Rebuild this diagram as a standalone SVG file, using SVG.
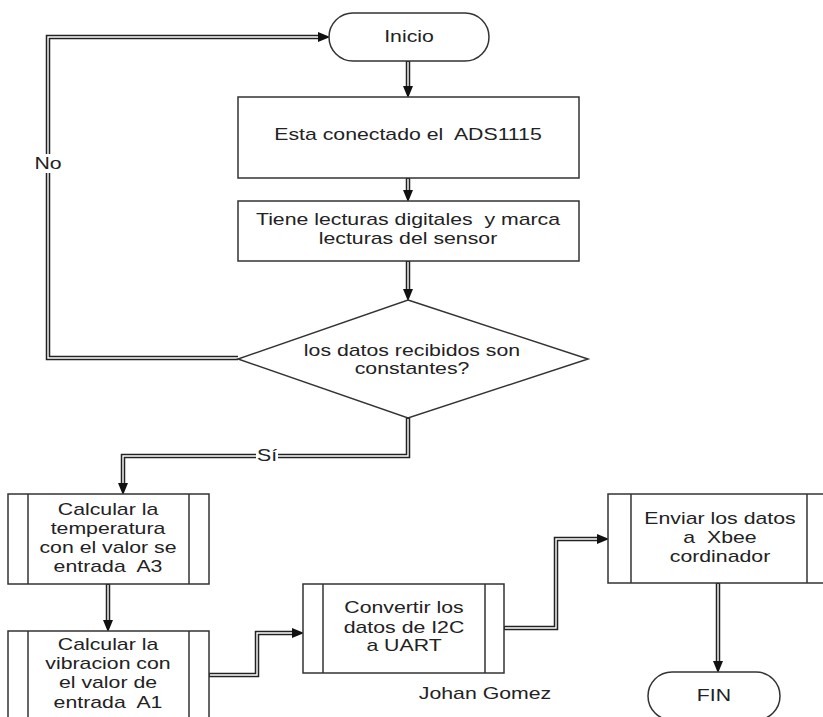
<svg xmlns="http://www.w3.org/2000/svg" width="823" height="717" viewBox="0 0 823 717">
<style>
.shape{fill:#fff;stroke:#333;stroke-width:1.5}
.line{fill:none;stroke:#333;stroke-width:1.5}
.cb{fill:none;stroke:#222;stroke-width:4.5;stroke-linejoin:miter}
.cw{fill:none;stroke:#fff;stroke-width:1.4;stroke-linejoin:miter}
.t{font-family:"Liberation Sans",Arial,sans-serif;font-size:16px;fill:#222;text-anchor:middle;white-space:pre}
</style>
<defs>
<marker id="ah" markerUnits="userSpaceOnUse" markerWidth="14" markerHeight="10" refX="0" refY="4.5" orient="auto" viewBox="0 0 12 9">
<path d="M0,0 L11,4.5 L0,9 Z" fill="#111"/>
</marker>
</defs>
<rect width="823" height="717" fill="#fff"/>

<g id="connectors">
<path class="cb" d="M408,61 V86" marker-end="url(#ah)"/>
<path class="cb" d="M408,178 V190" marker-end="url(#ah)"/>
<path class="cb" d="M408,261 V289" marker-end="url(#ah)"/>
<path class="cb" d="M238,358 H48 V37 H318" marker-end="url(#ah)"/>
<path class="cb" d="M408,418 V456 H123 V483" marker-end="url(#ah)"/>
<path class="cb" d="M108,584 V620" marker-end="url(#ah)"/>
<path class="cb" d="M209,675 H257 V633 H292" marker-end="url(#ah)"/>
<path class="cb" d="M504,628 H556 V539 H597" marker-end="url(#ah)"/>
<path class="cb" d="M718,583 V661" marker-end="url(#ah)"/>
<path class="cw" d="M408,62 V86"/>
<path class="cw" d="M408,179 V190"/>
<path class="cw" d="M408,262 V289"/>
<path class="cw" d="M238,358 H48 V37 H318"/>
<path class="cw" d="M408,419 V456 H123 V483"/>
<path class="cw" d="M108,585 V620"/>
<path class="cw" d="M210,675 H257 V633 H292"/>
<path class="cw" d="M505,628 H556 V539 H597"/>
<path class="cw" d="M718,584 V661"/>
<g id="label-no">
<rect x="34" y="154" width="28" height="19" fill="#fff"/>
<text class="t" transform="translate(48,169) scale(1.33,1)">No</text>
</g>
<g id="label-si">
<rect x="256" y="447" width="22" height="18" fill="#fff"/>
<text class="t" transform="translate(267,461) scale(1.33,1)">Sí</text>
</g>
</g>

<g id="inicio">
<rect class="shape" x="329" y="13" width="160" height="48" rx="24" ry="24"/>
<text class="t" transform="translate(409,42) scale(1.33,1)">Inicio</text>
</g>

<g id="box1">
<rect class="shape" x="238" y="97" width="341" height="81"/>
<text class="t" transform="translate(408,140) scale(1.33,1)">Esta conectado el  ADS1115</text>
</g>

<g id="box2">
<rect class="shape" x="238" y="201" width="341" height="60"/>
<text class="t" transform="translate(408,225) scale(1.33,1)"><tspan x="0" y="0">Tiene lecturas digitales  y marca</tspan><tspan x="0" y="19">lecturas del sensor</tspan></text>
</g>

<g id="decision">
<polygon class="shape" points="408,300 588,359 408,418 238,359"/>
<text class="t" transform="translate(412,356) scale(1.33,1)"><tspan x="0" y="0">los datos recibidos son</tspan><tspan x="0" y="18">constantes?</tspan></text>
</g>

<g id="box3">
<rect class="shape" x="8" y="494" width="201" height="90"/>
<line class="line" x1="28" y1="494" x2="28" y2="584"/>
<line class="line" x1="189" y1="494" x2="189" y2="584"/>
<text class="t" transform="translate(108,515) scale(1.33,1)"><tspan x="0" y="0">Calcular la</tspan><tspan x="0" y="19">temperatura</tspan><tspan x="0" y="38">con el valor se</tspan><tspan x="0" y="57">entrada  A3</tspan></text>
</g>

<g id="box4">
<rect class="shape" x="8" y="631" width="201" height="100"/>
<line class="line" x1="28" y1="631" x2="28" y2="731"/>
<line class="line" x1="189" y1="631" x2="189" y2="731"/>
<text class="t" transform="translate(108,650) scale(1.33,1)"><tspan x="0" y="0">Calcular la</tspan><tspan x="0" y="19">vibracion con</tspan><tspan x="0" y="38">el valor de</tspan><tspan x="0" y="58">entrada  A1</tspan></text>
</g>

<g id="box5">
<rect class="shape" x="303" y="584" width="201" height="89"/>
<line class="line" x1="323" y1="584" x2="323" y2="673"/>
<line class="line" x1="485" y1="584" x2="485" y2="673"/>
<text class="t" transform="translate(404,613) scale(1.33,1)"><tspan x="0" y="0">Convertir los</tspan><tspan x="0" y="20">datos de I2C</tspan><tspan x="0" y="38">a UART</tspan></text>
</g>

<g id="box6">
<rect class="shape" x="608" y="494" width="222" height="89"/>
<line class="line" x1="631" y1="494" x2="631" y2="583"/>
<line class="line" x1="807" y1="494" x2="807" y2="583"/>
<text class="t" transform="translate(720,524) scale(1.33,1)"><tspan x="0" y="0">Enviar los datos</tspan><tspan x="0" y="19">a  Xbee</tspan><tspan x="0" y="38">cordinador</tspan></text>
</g>

<g id="fin">
<rect class="shape" x="648" y="672" width="132" height="48" rx="24" ry="24"/>
<text class="t" transform="translate(714,701) scale(1.33,1)">FIN</text>
</g>

<g id="author">
<text class="t" transform="translate(485,699) scale(1.33,1)">Johan Gomez</text>
</g>
</svg>
